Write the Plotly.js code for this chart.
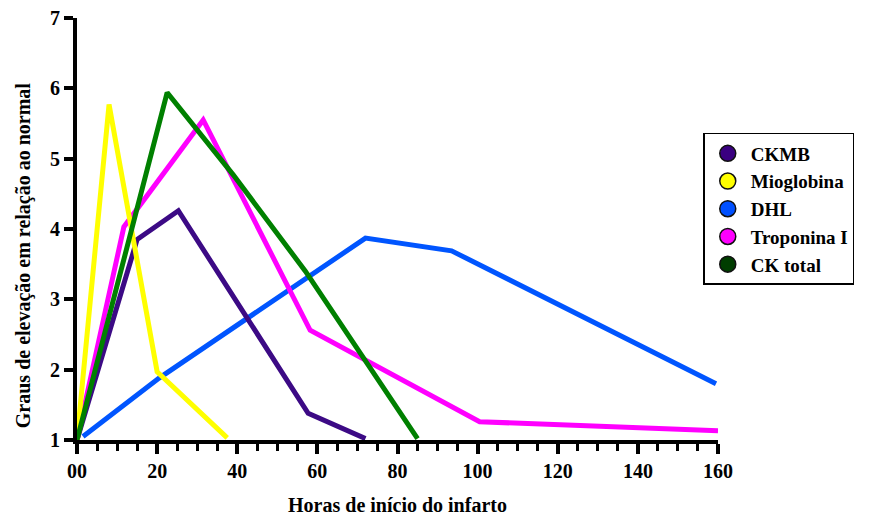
<!DOCTYPE html>
<html>
<head>
<meta charset="utf-8">
<script src="https://cdn.plot.ly/plotly-3.0.1.min.js"></script>
<style>
html,body{margin:0;padding:0;background:#fff;}
#chart{width:872px;height:516px;}
svg text{font-family:"Liberation Serif" !important;font-weight:bold !important;}
</style>
</head>
<body>
<div id="chart"></div>
<script>
// Data (hours since infarct onset, fold elevation over normal)
const seriesNames = ['CKMB', 'Mioglobina', 'DHL', 'Troponina I', 'CK total'];
const ckmbX = [0, 15, 25.3, 57.7, 72];
const ckmbY = [1, 3.85, 4.26, 1.38, 1.02];
const mioX = [0, 8, 20, 37.5];
const mioY = [1, 5.77, 1.97, 1.03];
const dhlX = [1.5, 20.5, 72, 93.5, 159.5];
const dhlY = [1.05, 1.88, 3.87, 3.69, 1.8];
const tropX = [0, 11.7, 31.5, 58.2, 100.5, 160];
const tropY = [1, 4.03, 5.55, 2.56, 1.26, 1.13];
const ckX = [0, 22.5, 39, 57, 85];
const ckY = [1, 5.94, 4.77, 3.4, 1.02];
const xTickVals = [0, 20, 40, 60, 80, 100, 120, 140, 160];
const xTickText = ['00', '20', '40', '60', '80', '100', '120', '140', '160'];
const yTickVals = [1, 2, 3, 4, 5, 6, 7];
const xTitle = 'Horas de início do infarto';
const yTitle = 'Graus de elevação em relação ao normal';

const lineColors = ['#3c0a85', '#ffff00', '#0055ff', '#ff00ff', '#008000'];
const legendColors = ['#3a0080', '#ffff00', '#0050ff', '#ff00ff', '#003d00'];
const xs = [ckmbX, mioX, dhlX, tropX, ckX];
const ys = [ckmbY, mioY, dhlY, tropY, ckY];

const FONT = 'Liberation Serif';
const traces = [];
const order = [2, 0, 3, 1, 4];
order.forEach(i => {
  traces.push({
    x: xs[i], y: ys[i], type: 'scatter', mode: 'lines',
    line: {color: lineColors[i], width: 5},
    showlegend: false, hoverinfo: 'skip'
  });
});
seriesNames.forEach((n, i) => {
  traces.push({
    x: [null], y: [null], type: 'scatter', mode: 'markers', name: n,
    marker: {color: legendColors[i], size: 17, symbol: 'circle', line: {color: '#111', width: 1.5}},
    showlegend: true
  });
});

const layout = {
  width: 872, height: 516,
  margin: {l: 77, r: 154, t: 18, b: 76},
  paper_bgcolor: '#ffffff', plot_bgcolor: '#ffffff',
  font: {family: FONT, size: 20, color: '#000', weight: 'bold'},
  showlegend: true,
  legend: {
    x: 0.977, y: 0.7275, xanchor: 'left', yanchor: 'top',
    bgcolor: '#ffffff', bordercolor: '#000', borderwidth: 1.5,
    font: {family: FONT, size: 19, color: '#000', weight: 'bold'},
    tracegroupgap: 0, itemwidth: 36
  },
  xaxis: {
    range: [0, 160], showgrid: false, zeroline: false,
    showline: true, linecolor: '#000', linewidth: 4,
    ticks: 'outside', ticklen: 10, tickwidth: 4, tickcolor: '#000',
    tickvals: xTickVals, ticktext: xTickText,
    minor: {dtick: 5, ticks: 'outside', ticklen: 7, tickwidth: 3, tickcolor: '#000', showgrid: false},
    tickfont: {family: FONT, size: 20, weight: 'bold', color: '#000'},
    title: {text: xTitle, font: {family: FONT, size: 20, weight: 'bold', color: '#000'}, standoff: 20}
  },
  yaxis: {
    range: [1, 7], showgrid: false, zeroline: false,
    showline: true, linecolor: '#000', linewidth: 4,
    ticks: 'outside', ticklen: 9, tickwidth: 4, tickcolor: '#000',
    tickvals: yTickVals,
    tickfont: {family: FONT, size: 20, weight: 'bold', color: '#000'}
  },
  annotations: [{
    text: yTitle, textangle: -90, showarrow: false,
    xref: 'paper', yref: 'paper', x: -0.0842, y: 0.438, xanchor: 'center', yanchor: 'middle',
    font: {family: FONT, size: 20, weight: 'bold', color: '#000'}
  }]
};

Plotly.newPlot('chart', traces, layout, {displayModeBar: false, staticPlot: true});
</script>
</body>
</html>
